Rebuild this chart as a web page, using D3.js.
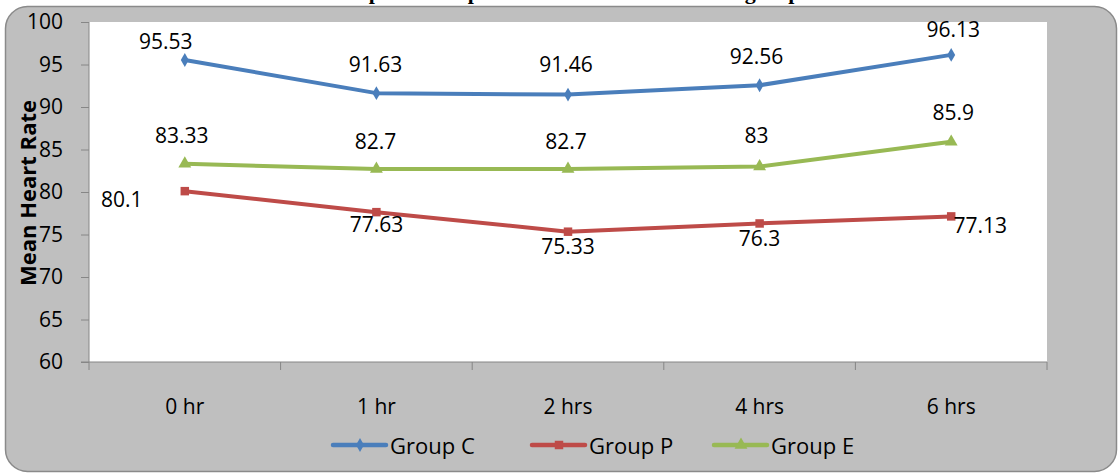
<!DOCTYPE html>
<html>
<head>
<meta charset="utf-8">
<script src="https://cdn.jsdelivr.net/npm/d3@7"></script>
<style>
  html, body { margin: 0; padding: 0; background: #fff; }
  svg { display: block; }
  text { font-family: "Open Sans", "Noto Sans", sans-serif; }
</style>
</head>
<body>
<svg id="chart" width="1118" height="474"></svg>
<script>
// Mean heart rate over time for three groups
const categories = ["0 hr", "1 hr", "2 hrs", "4 hrs", "6 hrs"];
const groupC = [95.53, 91.63, 91.46, 92.56, 96.13];
const groupP = [80.1, 77.63, 75.33, 76.3, 77.13];
const groupE = [83.33, 82.7, 82.7, 83, 85.9];
const yTicks = [60, 65, 70, 75, 80, 85, 90, 95, 100];
const seriesNames = ["Group C", "Group P", "Group E"];

// label nudges relative to each point (dx, dy of text centre)
const labelOffsetsC = [[-19, -19], [-1, -29], [-2, -31], [-3, -29], [2, -26]];
const labelOffsetsP = [[-63, 8], [0, 12], [0, 14], [0, 15], [29, 9]];
const labelOffsetsE = [[-3, -29], [-1, -28], [-2, -28], [-3, -32], [2, -30]];

const W = 1118, H = 474;
const plot = { left: 89, right: 1047, top: 22, bottom: 362 };

const svg = d3.select("#chart");

// chart frame
svg.append("rect")
  .attr("x", 5.5).attr("y", 6.5)
  .attr("width", 1111).attr("height", 465)
  .attr("rx", 22).attr("ry", 22)
  .attr("fill", "#bfbfbf")
  .attr("stroke", "#8a8a8a").attr("stroke-width", 1.5);

// title, running off the top of the page
svg.append("text")
  .attr("x", 570).attr("y", -1)
  .attr("text-anchor", "middle")
  .style("font-family", "'Liberation Serif', 'DejaVu Serif', serif")
  .style("font-weight", "bold")
  .style("font-size", "22px")
  .text("Graph 5: Comparison of heart rate in three groups");

svg.append("rect")
  .attr("x", plot.left).attr("y", plot.top)
  .attr("width", plot.right - plot.left).attr("height", plot.bottom - plot.top)
  .attr("fill", "#fff");

const x = d3.scaleBand().domain(categories).range([plot.left, plot.right]).padding(0);
const y = d3.scaleLinear().domain([60, 100]).range([plot.bottom, plot.top]);
const cx = d => x(d) + x.bandwidth() / 2;

// y axis
const yAxis = svg.append("g")
  .attr("transform", `translate(${plot.left},0)`)
  .call(d3.axisLeft(y).tickValues(yTicks).tickSize(8).tickPadding(18).tickFormat(d3.format("d")));
yAxis.select(".domain").attr("stroke", "#868686").attr("d", `M0,${plot.top}V${plot.bottom}`);
yAxis.selectAll(".tick line").attr("stroke", "#868686");
yAxis.selectAll(".tick text")
  .style("font-size", "21px").attr("fill", "#000")
  .style("font-family", "'Open Sans', sans-serif");

// x axis with ticks on category boundaries
const xAxisG = svg.append("g").attr("transform", `translate(0,${plot.bottom})`);
xAxisG.append("line")
  .attr("x1", plot.left - 8).attr("x2", plot.right)
  .attr("stroke", "#868686");
const bounds = categories.map(c => x(c)).concat([plot.right]);
xAxisG.selectAll("line.tk").data(bounds).join("line")
  .attr("class", "tk")
  .attr("x1", d => d).attr("x2", d => d)
  .attr("y1", 0).attr("y2", 8)
  .attr("stroke", "#868686");
xAxisG.selectAll("text").data(categories).join("text")
  .attr("x", d => cx(d)).attr("y", 52)
  .attr("text-anchor", "middle")
  .style("font-size", "21px")
  .text(d => d);

// axis title
svg.append("text")
  .attr("transform", "translate(36,193) rotate(-90)")
  .attr("text-anchor", "middle")
  .style("font-size", "22px").style("font-weight", "bold")
  .text("Mean Heart Rate");

const colors = ["#4a7ebb", "#be4b48", "#98b954"];
const seriesData = [groupC, groupP, groupE];
const offsets = [labelOffsetsC, labelOffsetsP, labelOffsetsE];
const markerTypes = [d3.symbolDiamond, d3.symbolSquare, d3.symbolTriangle];
const markerSizes = [55, 72, 72];

const line = d3.line().x((d, i) => cx(categories[i])).y(d => y(d));

seriesData.forEach((vals, s) => {
  svg.append("path")
    .datum(vals)
    .attr("d", line)
    .attr("fill", "none")
    .attr("stroke", colors[s])
    .attr("stroke-width", 4)
    .attr("stroke-linejoin", "round")
    .attr("stroke-linecap", "round");
  svg.selectAll(null).data(vals).join("path")
    .attr("transform", (d, i) => `translate(${cx(categories[i])},${y(d)})`)
    .attr("d", d3.symbol().type(markerTypes[s]).size(markerSizes[s]))
    .attr("fill", colors[s]);
});

// value labels
seriesData.forEach((vals, s) => {
  svg.selectAll(null).data(vals).join("text")
    .attr("x", (d, i) => cx(categories[i]) + offsets[s][i][0])
    .attr("y", (d, i) => y(d) + offsets[s][i][1])
    .attr("text-anchor", "middle")
    .attr("dominant-baseline", "central")
    .style("font-size", "21px")
    .text(d => d);
});

// legend
const legendX = [333, 532, 714];
const legend = svg.append("g");
seriesNames.forEach((name, s) => {
  const g = legend.append("g").attr("transform", `translate(${legendX[s]},445)`);
  g.append("line").attr("x1", 0).attr("x2", 53)
    .attr("stroke", colors[s]).attr("stroke-width", 4.5).attr("stroke-linecap", "round");
  g.append("path")
    .attr("transform", "translate(27,0)")
    .attr("d", d3.symbol().type(markerTypes[s]).size(markerSizes[s]))
    .attr("fill", colors[s]);
  g.append("text").attr("x", 57).attr("y", 0)
    .attr("dominant-baseline", "central")
    .style("font-size", "22px")
    .text(name);
});
</script>
</body>
</html>
